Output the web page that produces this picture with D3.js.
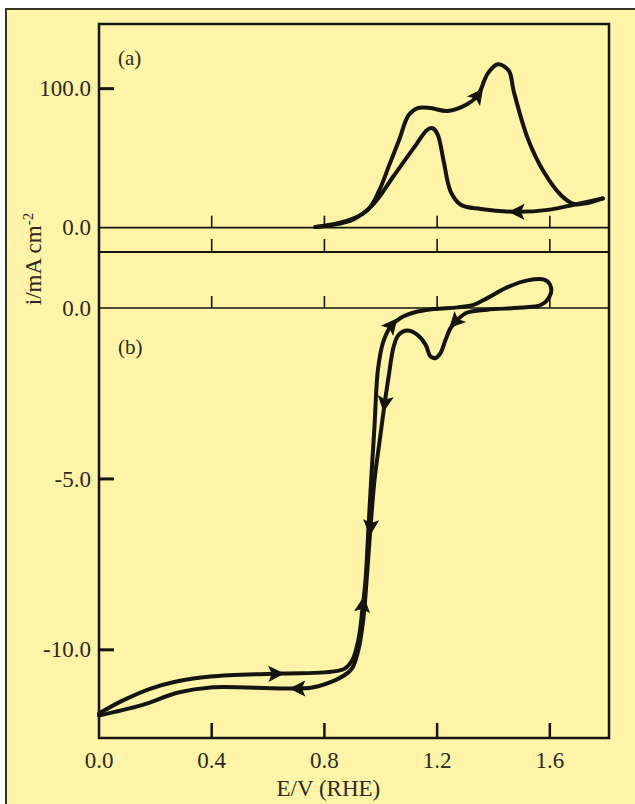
<!DOCTYPE html>
<html>
<head>
<meta charset="utf-8">
<script src="https://cdn.jsdelivr.net/npm/d3@7"></script>
<style>
  html, body { margin: 0; padding: 0; background: #fff; }
  svg text { font-family: "Liberation Serif", "DejaVu Serif", serif; fill: #2b2a22; }
</style>
</head>
<body>
<div id="viz"></div>
<script>
/**********************/
/******* data         */
/**********************/

// panel (a): anodic scan [E (V), i (mA cm-2)]
const aForward = [
  [0.768, 0.5], [0.882, 5], [0.955, 13], [0.995, 27], [1.030, 45], [1.065, 63], [1.099, 81],
  [1.131, 86], [1.177, 86], [1.237, 84], [1.308, 89], [1.344, 95], [1.380, 111],
  [1.415, 117.5], [1.454, 113], [1.472, 98], [1.522, 64], [1.579, 40], [1.639, 23.5],
  [1.685, 17], [1.735, 17.8], [1.788, 21]
];
const aReverse = [
  [1.788, 21], [1.685, 16.5], [1.593, 12.8], [1.486, 11.4], [1.355, 13.5], [1.284, 16.5],
  [1.248, 26], [1.223, 48], [1.202, 67], [1.184, 71.5], [1.166, 70.5], [1.116, 57],
  [1.045, 37], [0.974, 17], [0.903, 6], [0.821, 1.8], [0.768, 0.5]
];

// panel (b)
const bForward = [
  [0.0, -11.86], [0.08, -11.5], [0.181, -11.14], [0.267, -10.94], [0.396, -10.78],
  [0.654, -10.69], [0.8, -10.66], [0.872, -10.55], [0.9, -10.28], [0.921, -9.69],
  [0.935, -8.8], [0.946, -7.94], [0.956, -6.48], [0.966, -5.02], [0.977, -3.56],
  [0.990, -1.8], [1.008, -1.01], [1.035, -0.54], [1.07, -0.29], [1.118, -0.13],
  [1.189, -0.03], [1.272, 0.02], [1.331, 0.1], [1.378, 0.29], [1.45, 0.61],
  [1.521, 0.81], [1.58, 0.83], [1.601, 0.68], [1.604, 0.44], [1.586, 0.19], [1.556, 0.05]
];
const bReverse = [
  [1.556, 0.05], [1.473, 0.0], [1.378, -0.05], [1.307, -0.13], [1.272, -0.34],
  [1.248, -0.58], [1.23, -0.93], [1.212, -1.32], [1.195, -1.46], [1.177, -1.42],
  [1.159, -1.07], [1.129, -0.78], [1.094, -0.66], [1.064, -0.78], [1.046, -1.12],
  [1.028, -2.0], [1.014, -2.78], [0.995, -3.95], [0.978, -5.02], [0.963, -6.48],
  [0.950, -7.94], [0.938, -9.11], [0.921, -9.99], [0.9, -10.52], [0.885, -10.66],
  [0.843, -10.87], [0.757, -11.1], [0.654, -11.13], [0.396, -11.1], [0.281, -11.25],
  [0.152, -11.62], [0.0, -11.92]
];

// scan direction arrows: which curve, and where on it
const arrowsA = [
  { curve: "fwd", E: 1.344, i: 95 },
  { curve: "rev", E: 1.486, i: 11.4 }
];
const arrowsB = [
  { curve: "fwd", E: 0.626, i: -10.7 },
  { curve: "fwd", E: 0.942, i: -8.7 },
  { curve: "fwd", E: 1.040, i: -0.52 },
  { curve: "rev", E: 1.266, i: -0.4 },
  { curve: "rev", E: 1.017, i: -2.78 },
  { curve: "rev", E: 0.962, i: -6.4 },
  { curve: "rev", E: 0.708, i: -11.13 }
];

const xTicks = [0.0, 0.4, 0.8, 1.2, 1.6];
const yTicksA = [0.0, 100.0];
const yTicksB = [0.0, -5.0, -10.0];

/**********************/
/******* d3           */
/**********************/

const W = 635, H = 804;
const frame = { left: 99, right: 609, top: 24, split: 252, bottom: 738 };

const svg = d3.select("#viz").append("svg")
  .attr("width", W)
  .attr("height", H);

// page background + outer border
svg.append("rect").attr("x", 0).attr("y", 0).attr("width", W).attr("height", H).attr("fill", "#fff");
svg.append("rect")
  .attr("x", 6).attr("y", 9).attr("width", W + 20).attr("height", H + 20)
  .attr("fill", "#fef4a8").attr("stroke", "#3a3320").attr("stroke-width", 2);

const x = d3.scaleLinear().domain([0, 1.81]).range([frame.left, frame.right]);
const yA = d3.scaleLinear().domain([-17.5, 146.5]).range([frame.split, frame.top]);
const yB = d3.scaleLinear().domain([-12.58, 1.64]).range([frame.bottom, frame.split]);

const ink = "#151410";

function drawPanel(g, y, fwd, rev, arrows, yTicks, label, labelY) {
  // zero line
  g.append("line")
    .attr("x1", frame.left).attr("x2", frame.right)
    .attr("y1", y(0)).attr("y2", y(0))
    .attr("stroke", ink).attr("stroke-width", 1.6);

  // x ticks sitting on the zero line
  g.selectAll(".zt").data(xTicks.slice(1)).enter().append("line")
    .attr("x1", d => x(d)).attr("x2", d => x(d))
    .attr("y1", y(0)).attr("y2", y(0) - 12)
    .attr("stroke", ink).attr("stroke-width", 1.6);

  // y ticks + labels
  yTicks.forEach(t => {
    if (t !== 0) {
      g.append("line")
        .attr("x1", frame.left).attr("x2", frame.left + 15)
        .attr("y1", y(t)).attr("y2", y(t))
        .attr("stroke", ink).attr("stroke-width", 3);
    }
    g.append("text")
      .attr("x", frame.left - 8).attr("y", y(t))
      .attr("dy", "0.33em")
      .attr("text-anchor", "end")
      .style("font-size", "23px")
      .text(t.toFixed(1));
  });

  g.append("text")
    .attr("x", 118).attr("y", labelY)
    .style("font-size", "21px")
    .text(label);

  const line = d3.line()
    .x(d => x(d[0]))
    .y(d => y(d[1]))
    .curve(d3.curveCatmullRom.alpha(0.5));

  const paths = {};
  [["fwd", fwd], ["rev", rev]].forEach(([key, data]) => {
    paths[key] = g.append("path")
      .datum(data)
      .attr("d", line)
      .attr("fill", "none")
      .attr("stroke", ink)
      .attr("stroke-width", 4)
      .attr("stroke-linejoin", "round")
      .attr("stroke-linecap", "round");
  });

  // arrows: find nearest spot on the path, orient along the tangent
  arrows.forEach(a => {
    const node = paths[a.curve].node();
    const total = node.getTotalLength();
    const px = x(a.E), py = y(a.i);
    let best = 0, bestD = Infinity;
    for (let l = 0; l <= total; l += 0.5) {
      const p = node.getPointAtLength(l);
      const dd = (p.x - px) ** 2 + (p.y - py) ** 2;
      if (dd < bestD) { bestD = dd; best = l; }
    }
    const p0 = node.getPointAtLength(Math.max(0, best - 3));
    const p1 = node.getPointAtLength(Math.min(total, best + 3));
    const c = node.getPointAtLength(best);
    const ang = Math.atan2(p1.y - p0.y, p1.x - p0.x) * 180 / Math.PI;
    g.append("path")
      .attr("d", "M8,0 L-6,-7 L-3,0 L-6,7 Z")
      .attr("transform", `translate(${c.x},${c.y}) rotate(${ang})`)
      .attr("fill", ink)
      .attr("stroke", ink)
      .attr("stroke-width", 1);
  });
}

const gA = svg.append("g").attr("class", "panel-a");
const gB = svg.append("g").attr("class", "panel-b");

drawPanel(gA, yA, aForward, aReverse, arrowsA, yTicksA, "(a)", 65);
drawPanel(gB, yB, bForward, bReverse, arrowsB, yTicksB, "(b)", 354);

// ticks standing on the panel separator
svg.selectAll(".st").data(xTicks.slice(1)).enter().append("line")
  .attr("x1", d => x(d)).attr("x2", d => x(d))
  .attr("y1", frame.split).attr("y2", frame.split - 13)
  .attr("stroke", ink).attr("stroke-width", 1.6);

svg.append("line")
  .attr("x1", frame.left).attr("x2", frame.right)
  .attr("y1", frame.split).attr("y2", frame.split)
  .attr("stroke", ink).attr("stroke-width", 2);

// bottom axis
svg.selectAll(".bt").data(xTicks.slice(1)).enter().append("line")
  .attr("x1", d => x(d)).attr("x2", d => x(d))
  .attr("y1", frame.bottom).attr("y2", frame.bottom - 15)
  .attr("stroke", ink).attr("stroke-width", 2.5);

svg.selectAll(".bl").data(xTicks).enter().append("text")
  .attr("x", d => x(d)).attr("y", frame.bottom + 30)
  .attr("text-anchor", "middle")
  .style("font-size", "23px")
  .text(d => d.toFixed(1));

svg.append("text")
  .attr("x", x(0.8) + 4).attr("y", frame.bottom + 58)
  .attr("text-anchor", "middle")
  .style("font-size", "23px")
  .text("E/V (RHE)");

// frame
svg.append("rect")
  .attr("x", frame.left).attr("y", frame.top)
  .attr("width", frame.right - frame.left).attr("height", frame.bottom - frame.top)
  .attr("fill", "none").attr("stroke", ink).attr("stroke-width", 2.5);

// y axis title
const yt = svg.append("text")
  .attr("transform", `translate(41, 259) rotate(-90)`)
  .attr("text-anchor", "middle")
  .style("font-size", "23px");
yt.append("tspan").text("i/mA cm");
yt.append("tspan").attr("dy", "-0.55em").style("font-size", "15px").text("-2");
</script>
</body>
</html>
